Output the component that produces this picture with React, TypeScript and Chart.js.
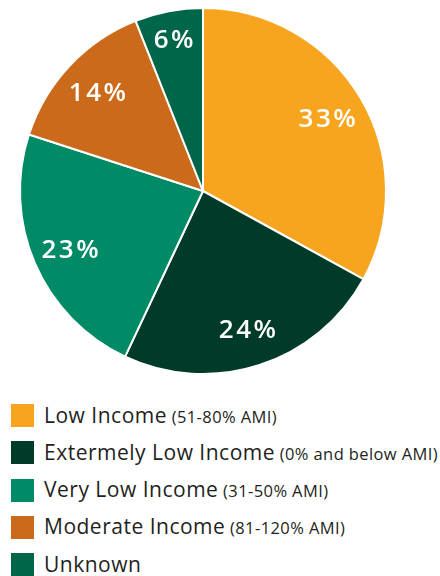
import React, { useEffect, useRef } from "react";
import { Chart, registerables } from "chart.js";

Chart.register(...registerables);

const categories = [
  "Low Income",
  "Extermely Low Income",
  "Very Low Income",
  "Moderate Income",
  "Unknown",
];
const subLabels = ["(51-80% AMI)", "(0% and below AMI)", "(31-50% AMI)", "(81-120% AMI)", ""];
const values = [33, 24, 23, 14, 6];
const colors = ["#F7A51E", "#003B29", "#008A66", "#CC6A1C", "#00664A"];

const labelPlugin = {
  id: "pctLabels",
  afterDatasetsDraw(chart: any) {
    const ctx = chart.ctx;
    const meta = chart.getDatasetMeta(0);
    ctx.save();
    ctx.fillStyle = "#ffffff";
    ctx.font = "600 26px 'Open Sans'";
    (ctx as any).letterSpacing = "2.5px";
    ctx.textAlign = "center";
    ctx.textBaseline = "middle";
    meta.data.forEach((arc: any, i: number) => {
      const p = arc.getProps(["x", "y", "startAngle", "endAngle", "outerRadius"], true);
      const mid = (p.startAngle + p.endAngle) / 2;
      const r = p.outerRadius * (values[i] < 10 ? 0.85 : 0.79);
      ctx.fillText(values[i] + "%", p.x + Math.cos(mid) * r + 1, p.y + Math.sin(mid) * r + 2);
    });
    ctx.restore();
  },
};

export default function App() {
  const ref = useRef<HTMLCanvasElement>(null);
  useEffect(() => {
    const chart = new Chart(ref.current!, {
      type: "pie",
      data: {
        labels: categories,
        datasets: [
          {
            data: values,
            backgroundColor: colors,
            borderColor: "#ffffff",
            borderWidth: 2,
          },
        ],
      },
      options: {
        animation: false,
        responsive: false,
        layout: { padding: 7 },
        plugins: { legend: { display: false }, tooltip: { enabled: false } },
      },
      plugins: [labelPlugin],
    });
    return () => chart.destroy();
  }, []);

  return (
    <div style={{ position: "absolute", left: 0, top: 0, width: 440, height: 576, background: "#fff", fontFamily: "'Open Sans', sans-serif" }}>
      <canvas ref={ref} width={406} height={382} style={{ position: "absolute", left: 0, top: 0 }} />
      {categories.map((c, i) => (
        <div key={c} style={{ position: "absolute", left: 11, top: 404 + i * 37.3, height: 23, display: "flex", alignItems: "center", whiteSpace: "nowrap" }}>
          <div style={{ width: 23, height: 23, background: colors[i], flex: "none" }} />
          <span style={{ marginLeft: 10, fontSize: 21, color: "#231F20", lineHeight: "23px", letterSpacing: 0.5 }}>
            {c}
            {subLabels[i] && <span style={{ fontSize: 16.5, letterSpacing: 0.4 }}> {subLabels[i]}</span>}
          </span>
        </div>
      ))}
    </div>
  );
}
